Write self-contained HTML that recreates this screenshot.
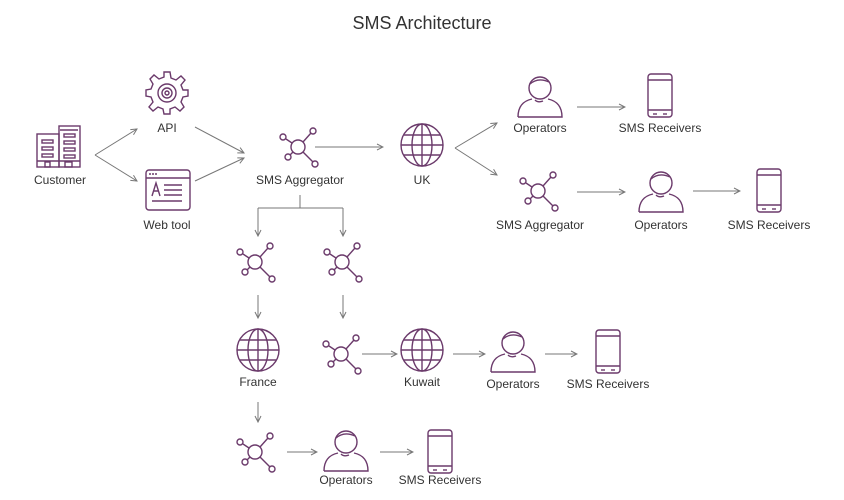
<!DOCTYPE html>
<html><head><meta charset="utf-8"><style>
html,body{margin:0;padding:0;background:#fff;}
svg{display:block;}
text{font-family:"Liberation Sans",sans-serif;fill:#333;font-size:12px;text-anchor:middle;}
</style></head><body>
<svg width="844" height="500" viewBox="0 0 844 500" xmlns="http://www.w3.org/2000/svg">
<defs>
<marker id="ah" markerWidth="8" markerHeight="8" refX="7" refY="4" orient="auto" markerUnits="userSpaceOnUse">
<path d="M1,1 L7,4 L1,7" fill="none" stroke="#777" stroke-width="1"/>
</marker>
<g id="agg" fill="none" stroke="#6b3a6b" stroke-width="1.4">
<circle cx="0" cy="0" r="7"/>
<line x1="5" y1="-5" x2="13" y2="-14"/><circle cx="15" cy="-16" r="3"/>
<line x1="-6" y1="-4" x2="-12" y2="-8"/><circle cx="-15" cy="-10" r="3"/>
<line x1="-5" y1="5" x2="-8" y2="8"/><circle cx="-10" cy="10" r="3"/>
<line x1="5" y1="5" x2="15" y2="15"/><circle cx="17" cy="17" r="3"/>
</g>
<g id="globe" fill="none" stroke="#6b3a6b" stroke-width="1.4">
<circle cx="0" cy="0" r="21"/>
<ellipse cx="0" cy="0" rx="10" ry="21"/>
<line x1="0" y1="-21" x2="0" y2="21"/>
<line x1="-21" y1="0" x2="21" y2="0"/>
<line x1="-18" y1="-10" x2="18" y2="-10"/>
<line x1="-18" y1="10" x2="18" y2="10"/>
</g>
<g id="op" fill="none" stroke="#6b3a6b" stroke-width="1.4">
<circle cx="0" cy="-7" r="11"/>
<path d="M-10,-11 Q-2,-18 9,-13" />
<path d="M-22,22 Q-22,7 -8,4 M8,4 Q22,7 22,22 L-22,22"/>
<path d="M-5,5 Q-2,8 3,6"/>
</g>
<g id="phone" fill="none" stroke="#6b3a6b" stroke-width="1.4">
<rect x="-12" y="-21" width="24" height="43" rx="3"/>
<line x1="-12" y1="-15" x2="12" y2="-15"/>
<line x1="-12" y1="15" x2="12" y2="15"/>
<line x1="-7" y1="19" x2="-3" y2="19"/><line x1="3" y1="19" x2="7" y2="19"/>
</g>
</defs>

<text x="422" y="29" style="font-size:18px;fill:#333">SMS Architecture</text>

<g fill="none" stroke="#6b3a6b" stroke-width="1.4">
<rect x="37" y="134" width="22" height="33"/>
<rect x="59" y="126" width="21" height="41"/>
<line x1="60" y1="130" x2="78" y2="130"/>
<rect x="42" y="140" width="11" height="3"/><rect x="42" y="147" width="11" height="3"/><rect x="42" y="154" width="11" height="3"/>
<rect x="64" y="134" width="11" height="3"/><rect x="64" y="141" width="11" height="3"/><rect x="64" y="148" width="11" height="3"/><rect x="64" y="155" width="11" height="3"/>
<line x1="37" y1="161" x2="80" y2="161"/>
<rect x="45" y="162" width="5" height="5"/><rect x="65" y="162" width="7" height="5"/>
</g>
<text x="60" y="184">Customer</text>

<g fill="none" stroke="#6b3a6b" stroke-width="1.4" transform="translate(167,93)">
<path d="M-3,-21 L3,-21 L4,-15 L9,-13 L14,-17 L18,-13 L14,-8 L16,-3 L21,-3 L21,3 L16,4 L14,9 L17,14 L13,18 L8,14 L3,16 L3,21 L-3,21 L-4,16 L-9,14 L-14,18 L-18,14 L-14,9 L-16,4 L-21,3 L-21,-3 L-16,-4 L-14,-9 L-17,-14 L-13,-18 L-8,-14 L-3,-16 Z"/>
<circle r="9"/><circle r="5"/><circle r="2"/>
</g>
<text x="167" y="132">API</text>

<g fill="none" stroke="#6b3a6b" stroke-width="1.4">
<rect x="146" y="170" width="44" height="40" rx="3"/>
<line x1="146" y1="178" x2="190" y2="178"/>
<path d="M152,196 L156,183 L160,196 M153,191 L159,191"/>
<line x1="164" y1="185" x2="182" y2="185"/><line x1="164" y1="190" x2="182" y2="190"/><line x1="164" y1="195" x2="182" y2="195"/>
<line x1="152" y1="201" x2="182" y2="201"/>
</g>
<g fill="#6b3a6b"><circle cx="150" cy="174" r="1"/><circle cx="153" cy="174" r="1"/><circle cx="156" cy="174" r="1"/></g>
<text x="167" y="229">Web tool</text>

<g stroke="#777" stroke-width="1" fill="none" marker-end="url(#ah)">
<line x1="95" y1="155" x2="137" y2="129"/>
<line x1="95" y1="155" x2="137" y2="181"/>
<line x1="195" y1="127" x2="244" y2="153"/>
<line x1="195" y1="181" x2="244" y2="158"/>
<line x1="315" y1="147" x2="383" y2="147"/>
<line x1="455" y1="148" x2="497" y2="123"/>
<line x1="455" y1="148" x2="497" y2="175"/>
<line x1="577" y1="107" x2="625" y2="107"/>
<line x1="577" y1="192" x2="625" y2="192"/>
<line x1="693" y1="191" x2="740" y2="191"/>
<line x1="258" y1="208" x2="258" y2="236"/>
<line x1="343" y1="208" x2="343" y2="236"/>
<line x1="258" y1="295" x2="258" y2="318"/>
<line x1="343" y1="295" x2="343" y2="318"/>
<line x1="362" y1="354" x2="397" y2="354"/>
<line x1="453" y1="354" x2="485" y2="354"/>
<line x1="545" y1="354" x2="577" y2="354"/>
<line x1="258" y1="402" x2="258" y2="422"/>
<line x1="287" y1="452" x2="317" y2="452"/>
<line x1="380" y1="452" x2="413" y2="452"/>
</g>
<path d="M300,195 L300,208 M258,208 L343,208" stroke="#777" stroke-width="1" fill="none"/>

<use href="#agg" x="298" y="147"/><text x="300" y="184">SMS Aggregator</text>
<use href="#globe" x="422" y="145"/><text x="422" y="184">UK</text>
<use href="#op" x="540" y="95"/><text x="540" y="132">Operators</text>
<use href="#phone" x="660" y="95"/><text x="660" y="132">SMS Receivers</text>
<use href="#agg" x="538" y="191"/><text x="540" y="229">SMS Aggregator</text>
<use href="#op" x="661" y="190"/><text x="661" y="229">Operators</text>
<use href="#phone" x="769" y="190"/><text x="769" y="229">SMS Receivers</text>

<use href="#agg" x="255" y="262"/>
<use href="#agg" x="342" y="262"/>
<use href="#globe" x="258" y="350"/><text x="258" y="386">France</text>
<use href="#agg" x="341" y="354"/>
<use href="#globe" x="422" y="350"/><text x="422" y="386">Kuwait</text>
<use href="#op" x="513" y="350"/><text x="513" y="388">Operators</text>
<use href="#phone" x="608" y="351"/><text x="608" y="388">SMS Receivers</text>
<use href="#agg" x="255" y="452"/>
<use href="#op" x="346" y="449"/><text x="346" y="484">Operators</text>
<use href="#phone" x="440" y="451"/><text x="440" y="484">SMS Receivers</text>
</svg>
</body></html>
